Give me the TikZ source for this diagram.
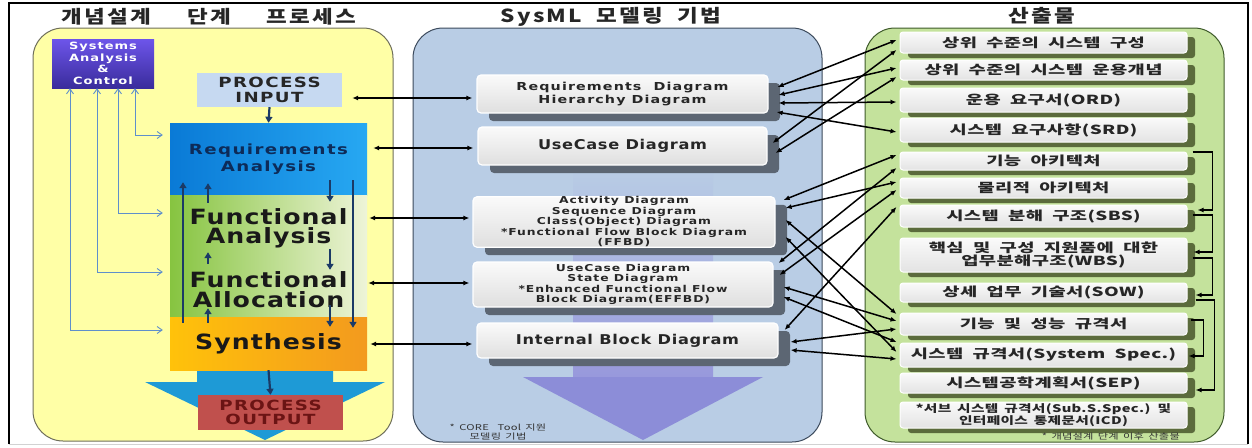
\documentclass[tikz,border=0pt]{standalone}
\usepackage{fontspec}
\setmainfont{DejaVu Sans}
\newfontfamily\krhead{Noto Sans CJK KR}[FakeStretch=1.25,LetterSpace=12,WordSpace=2]
\newfontfamily\krbox{Noto Sans CJK KR}[FakeStretch=1.5,LetterSpace=3,WordSpace=2]
\newfontfamily\krboxs{Noto Sans CJK KR}[FakeStretch=1.4,LetterSpace=3,WordSpace=1.6]
\newfontfamily\latwide{DejaVu Sans}[FakeStretch=1.3,LetterSpace=10]
\newfontfamily\latmid{DejaVu Sans}[FakeStretch=1.2,LetterSpace=5]
\usetikzlibrary{arrows.meta,shadows}

\definecolor{panelY}{HTML}{FFFFA6}
\definecolor{panelB}{HTML}{B9CDE5}
\definecolor{panelG}{HTML}{C4E29C}
\definecolor{edgeY}{HTML}{6E6E5A}
\definecolor{edgeB}{HTML}{3C4A5C}
\definecolor{edgeG}{HTML}{3E5A2A}
\definecolor{sacTop}{HTML}{6D55EA}
\definecolor{sacBot}{HTML}{3A2C9C}
\definecolor{pinFill}{HTML}{C6D9F1}
\definecolor{raL}{HTML}{0A7AD6}
\definecolor{raR}{HTML}{27A8F2}
\definecolor{raText}{HTML}{0D2B58}
\definecolor{faL}{HTML}{86C440}
\definecolor{faR}{HTML}{EEF4D8}
\definecolor{synL}{HTML}{FFC20A}
\definecolor{synR}{HTML}{F39A1E}
\definecolor{outFill}{HTML}{C0504D}
\definecolor{outText}{HTML}{6B1414}
\definecolor{bigBlue}{HTML}{1E9AD6}
\definecolor{bigPurple}{HTML}{8C8DD8}
\definecolor{fbBlue}{HTML}{5F8FCB}
\definecolor{navyArr}{HTML}{1B3A66}
\definecolor{mShadow}{HTML}{5C6673}
\definecolor{rShadow}{HTML}{5B6B3C}
\definecolor{boxText}{HTML}{262626}

\begin{document}
\begin{tikzpicture}[x=1pt,y=-1pt,
  panel/.style={draw, line width=1pt, rounded corners=30pt, inner sep=0pt},
  headline/.style={font=\krhead\bfseries\fontsize{18}{21}\selectfont, text=black!85},
  lbox/.style={minimum width=197pt, inner sep=0pt, align=center, font=\latmid\bfseries\fontsize{21}{19.5}\selectfont, text=black!90},
  smallbox/.style={minimum width=145pt, inner sep=0pt, align=center, font=\latwide\bfseries\fontsize{14}{14.5}\selectfont},
  mbox/.style={draw=white, line width=1.2pt, rounded corners=4pt, top color=gray!4, bottom color=gray!25,
    general shadow={fill=mShadow, shadow xshift=12pt, shadow yshift=-8pt, rounded corners=6pt},
    inner sep=0pt, align=center, text=boxText, font=\latwide\bfseries\fontsize{9.5}{10.5}\selectfont},
  rbox/.style={minimum width=287pt, draw=white, line width=1pt, rounded corners=3pt, top color=gray!4, bottom color=gray!22,
    general shadow={fill=rShadow, shadow xshift=8pt, shadow yshift=-5pt, rounded corners=5pt},
    inner sep=0pt, align=center, text=boxText, font=\krbox\bfseries\fontsize{12.5}{13.5}\selectfont},
  fb/.style={draw=fbBlue, line width=0.9pt, {Straight Barb[length=5pt,width=7pt]}-{Straight Barb[length=5pt,width=7pt]}},
  flow/.style={draw=navyArr, line width=2.2pt, -{Triangle[length=6pt,width=7pt]}},
  conn/.style={draw=black, line width=1.5pt, {Latex[length=6pt,width=5pt]}-{Latex[length=6pt,width=5pt]}},
  backflow/.style={draw=black, line width=1.3pt, -{Latex[length=6pt,width=5pt]}},
  footnote/.style={font=\krboxs\fontsize{8}{9}\selectfont, text=black!80, align=center, inner sep=0pt}]

\useasboundingbox (0,0) rectangle (1252,447);
\draw[line width=1.6pt] (9,444) -- (9,3) -- (1248,3) -- (1248,444);
\draw[gray!35, line width=1pt] (9,444) -- (1248,444);

\node[panel, draw=edgeY, fill=panelY, minimum width=360pt, minimum height=413pt] (lp) at (213,234.5) {};
\node[panel, draw=edgeB, fill=panelB, minimum width=409pt, minimum height=414pt] (mp) at (617.5,235) {};
\node[panel, draw=edgeG, fill=panelG, minimum width=359pt, minimum height=414pt] (rp) at (1044.5,235) {};

\node[headline] (t1) at (209,17) {개념설계\hspace{36pt}단계\hspace{36pt}프로세스};
\node[headline] (t2) at (611,17) {SysML 모델링 기법};
\node[headline] (t3) at (1042,16) {산출물};

\fill[bigBlue] (197,368) -- (333,368) -- (333,382) -- (385,382) -- (265,440) -- (145,382) -- (197,382) -- cycle;
\shade[top color=panelB, bottom color=bigPurple!90] (573,168) rectangle (713,378);
\fill[bigPurple] (573,377) -- (763,377) -- (643,440) -- (523,377) -- cycle;

\node[lbox, minimum width=102pt, minimum height=49pt, top color=sacTop, bottom color=sacBot, text=white,
  font=\latwide\bfseries\fontsize{10}{11.5}\selectfont] (sac) at (103,63.5) {Systems\\Analysis\\\&\\Control};
\node[smallbox, minimum height=34pt, fill=pinFill, text=black!85] (pin) at (269.5,90) {PROCESS\\INPUT};
\node[lbox, minimum height=72pt, left color=raL, right color=raR, text=raText,
  font=\latwide\bfseries\fontsize{14}{16.5}\selectfont] (ra) at (268.5,159) {Requirements\\Analysis};
\node[lbox, minimum height=67pt, left color=faL, right color=faR] (fa) at (268.5,228.5) {Functional\\Analysis};
\node[lbox, minimum height=55pt, left color=faL, right color=faR] (fal) at (268.5,289.5) {Functional\\Allocation};
\node[lbox, minimum height=53pt, left color=synL, right color=synR] (syn) at (268.5,343.5) {Synthesis};
\node[smallbox, minimum height=35pt, fill=outFill, text=outText] (pout) at (270.5,412.5) {PROCESS\\OUTPUT};

\node[mbox, minimum width=291pt, minimum height=38pt, font=\latwide\bfseries\fontsize{11}{12.5}\selectfont] (rq) at (622.5,94) {Requirements\ \ Diagram\\Hierarchy Diagram};
\node[mbox, minimum width=289pt, minimum height=38pt, font=\latmid\bfseries\fontsize{13.5}{15}\selectfont] (uc) at (622.5,146) {UseCase Diagram};
\node[mbox, minimum width=302pt, minimum height=50pt] (act) at (624,222) {Activity Diagram\\Sequence Diagram\\Class(Object) Diagram\\*Functional Flow Block Diagram\\(FFBD)};
\node[mbox, minimum width=300pt, minimum height=45pt] (st) at (623,284.5) {UseCase Diagram\\State Diagram\\*Enhanced Functional Flow\\Block Diagram(EFFBD)};
\node[mbox, minimum width=301pt, minimum height=35pt, font=\latmid\bfseries\fontsize{13.5}{15}\selectfont] (ibd) at (627.5,340.5) {Internal Block Diagram};
\node[footnote] (n1) at (498,432) {* CORE\ \ Tool 지원\\모델링 기법};

\node[rbox, minimum height=21pt] (b1) at (1043.5,42.5) {상위 수준의 시스템 구성};
\node[rbox, minimum height=20pt] (b2) at (1043.5,70) {상위 수준의 시스템 운용개념};
\node[rbox, minimum height=24pt] (b3) at (1043.5,100) {운용 요구서(ORD)};
\node[rbox, minimum height=24pt] (b4) at (1043.5,130) {시스템 요구사항(SRD)};
\node[rbox, minimum height=18pt] (b5) at (1043.5,161) {기능 아키텍처};
\node[rbox, minimum height=20pt] (b6) at (1043.5,188) {물리적 아키텍처};
\node[rbox, minimum height=22pt] (b7) at (1043.5,216) {시스템 분해 구조(SBS)};
\node[rbox, minimum height=34pt] (b8) at (1043.5,255) {핵심 및 구성 지원품에 대한\\업무분해구조(WBS)};
\node[rbox, minimum height=19pt] (b9) at (1043.5,292.5) {상세 업무 기술서(SOW)};
\node[rbox, minimum height=22pt] (b10) at (1043.5,324) {기능 및 성능 규격서};
\node[rbox, minimum height=24pt] (b11) at (1043.5,355) {시스템 규격서(System Spec.)};
\node[rbox, minimum height=20pt] (b12) at (1043.5,383) {시스템공학계획서(SEP)};
\node[rbox, minimum height=26pt, font=\krboxs\bfseries\fontsize{10.5}{12}\selectfont] (b13) at (1043.5,415) {*서브 시스템 규격서(Sub.S.Spec.) 및\\인터페이스 통제문서(ICD)};
\node[footnote, anchor=east] (n2) at (1180,436) {* 개념설계 단계 이후 산출물};

\draw[fb] ([xshift=32pt]sac.south) |- ([xshift=-7pt,yshift=24pt]ra.west);
\draw[fb] ([xshift=15pt]sac.south) |- ([xshift=-7pt,yshift=15.5pt]fa.west);
\draw[fb] ([xshift=-6pt]sac.south) |- ([xshift=-7pt,yshift=17.5pt]fal.west);
\draw[fb] ([xshift=-33pt]sac.south) |- ([xshift=-7pt,yshift=13.5pt]syn.west);

\draw[flow] (pin.south) -- (ra.north);
\draw[flow] (syn.south) -- (pout.north);
\draw[flow] ([xshift=-85.5pt,yshift=-6pt]syn.north) -- ([xshift=-85.5pt,yshift=13pt]ra.south);
\draw[flow] ([xshift=-60.5pt,yshift=-8pt]fa.north) -- ([xshift=-60.5pt,yshift=12pt]ra.south);
\draw[flow] ([xshift=61.5pt,yshift=15pt]ra.south) -- ([xshift=61.5pt,yshift=-7pt]fa.north);
\draw[flow] ([xshift=84.5pt,yshift=15pt]ra.south) -- ([xshift=84.5pt,yshift=-11pt]syn.north);
\draw[flow] ([xshift=-60.5pt,yshift=-2pt]fal.north) -- ([xshift=-60.5pt,yshift=10pt]fa.south);
\draw[flow] ([xshift=61.5pt,yshift=13pt]fa.south) -- ([xshift=61.5pt,yshift=-8pt]fal.north);
\draw[flow] ([xshift=-60.5pt,yshift=-6pt]syn.north) -- ([xshift=-60.5pt,yshift=9pt]fal.south);
\draw[flow] ([xshift=61.5pt,yshift=12pt]fal.south) -- ([xshift=61.5pt,yshift=-10pt]syn.north);

\draw[conn] ([xshift=10pt,yshift=-8pt]pin.east) -- ([xshift=-4pt,yshift=-4pt]rq.west);
\draw[conn] ([xshift=6pt,yshift=11pt]ra.east) -- ([xshift=-4pt,yshift=-2pt]uc.west);
\draw[conn] ([xshift=2pt,yshift=10.5pt]fa.east) -- ([xshift=-3pt,yshift=4pt]act.west);
\draw[conn] ([xshift=1pt,yshift=6.5pt]fal.east) -- ([xshift=-3pt,yshift=1.5pt]st.west);
\draw[conn] ([xshift=3pt,yshift=-0.5pt]syn.east) -- ([xshift=-4pt,yshift=-3.5pt]ibd.west);

\foreach \m/\mx/\my/\r/\ry in {rq/9/7/b1/2.5, rq/10/-1/b2/2, rq/10/-9/b3/-2, rq/8/-18/b4/-2,
    uc/5/3/b1/-7.5, uc/8/-7/b2/-7,
    act/8/22/b5/6, act/10/14/b6/6, act/10/2/b10/10, act/10/-15/b11/3,
    st/5/21.5/b5/-7, st/6/9.5/b6/-2, st/10/-2.5/b10/3, st/10/-12.5/b11/13,
    ibd/6/10.5/b7/9, ibd/12/-1.5/b10/-5, ibd/12/-9.5/b11/-4}
  \draw[conn] ([xshift=\mx pt,yshift=\my pt]\m.east) -- ([xshift=-3pt,yshift=\ry pt]\r.west);

\draw[backflow] ([xshift=5pt,yshift=9pt]b5.east) -- ++(20,0) |- ([xshift=10pt,yshift=6pt]b7.east);
\draw[backflow] ([xshift=5pt,yshift=1pt]b7.east) -- ++(20,0) |- ([xshift=6pt,yshift=3pt]b8.east);
\draw[backflow] ([xshift=5pt,yshift=-3pt]b8.east) -- ++(20,0) |- ([xshift=8pt,yshift=-2.5pt]b9.east);
\draw[backflow] ([xshift=8pt,yshift=-7.5pt]b9.east) -- ++(19,0) |- ([xshift=8pt,yshift=-7pt]b12.east);
\draw[backflow] ([xshift=3pt,yshift=4pt]b10.east) -- ++(13,0) |- ([xshift=1pt,yshift=-1pt]b11.east);

\end{tikzpicture}
\end{document}
